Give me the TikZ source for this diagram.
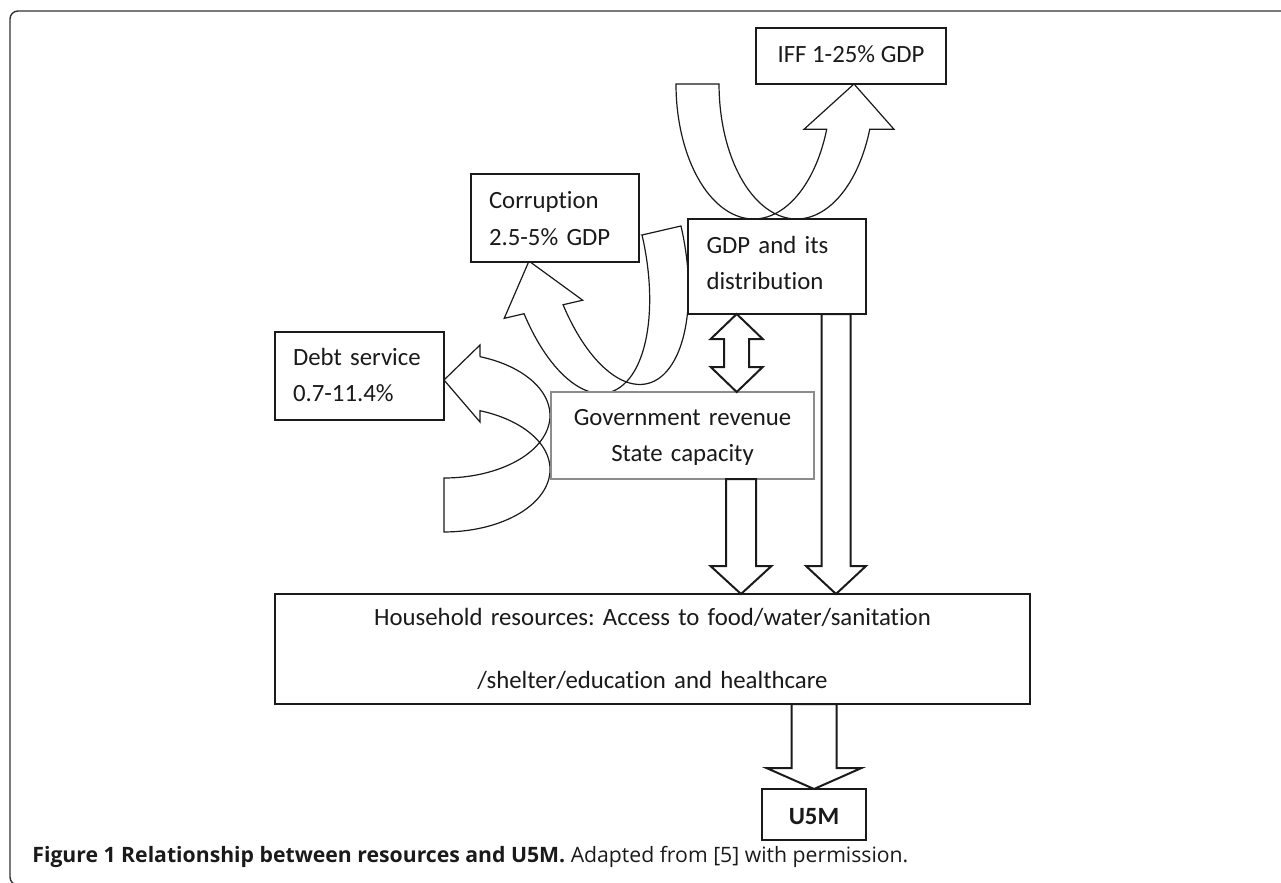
\documentclass[tikz,border=0pt]{standalone}
\usepackage{fontspec}
\setmainfont{Carlito}[Ligatures=NoCommon]
\newfontfamily\capfont{Open Sans}
\usetikzlibrary{calc}
\usepackage{xcolor}
\definecolor{ink}{HTML}{1A1A1A}
\definecolor{rule}{HTML}{333333}
\definecolor{soft}{HTML}{8C8C8C}
\tikzset{
  box/.style={draw=ink,line width=0.85pt,fill=white,inner sep=0pt,outer sep=0pt,text=ink,font=\fontsize{12.4}{18}\selectfont},
  leftbox/.style={box,align=left,inner xsep=9pt},
  midbox/.style={box,align=center},
  ribbon/.style={draw=ink,line width=0.6pt,fill=white,line join=miter},
  block/.style={draw=ink,line width=1pt,fill=white,line join=miter},
  frame/.style={draw=rule,line width=0.7pt,rounded corners=4pt},
  caption/.style={font=\capfont\fontsize{10.6}{12}\selectfont,text=ink,inner sep=0pt}
}
\newcommand{\fatdown}[5]{%
  \draw[block] let \p1=(#1), \p2=(#2) in
    (\x2-#3,\y1) -- (\x2+#3,\y1) -- (\x2+#3,\y2+#5) -- (\x2+#4,\y2+#5)
    -- (\x2,\y2) -- (\x2-#4,\y2+#5) -- (\x2-#3,\y2+#5) -- cycle;}
\newcommand{\fatboth}[5]{%
  \draw[block] let \p1=(#1), \p2=(#2) in
    (\x1,\y1) -- (\x1+#4,\y1-#5) -- (\x1+#3,\y1-#5) -- (\x1+#3,\y2+#5)
    -- (\x1+#4,\y2+#5) -- (\x2,\y2) -- (\x1-#4,\y2+#5) -- (\x1-#3,\y2+#5)
    -- (\x1-#3,\y1-#5) -- (\x1-#4,\y1-#5) -- cycle;}

\begin{document}
\frenchspacing
\begin{tikzpicture}[x=0.5pt,y=-0.5pt]
\useasboundingbox (0,0) rectangle (1281,883);
\begin{scope}
\clip (0,0) rectangle (1281,883);
\draw[frame] (10,11) rectangle (1320,885);
\end{scope}

\filldraw[ribbon] (676,84) arc[start angle=180,end angle=73.9,x radius=77.6,y radius=135]
  arc[start angle=106.1,end angle=19.6,x radius=77.6,y radius=135]
  -- (894,129.3) -- (854,84) -- (804,129.3) -- (826.7,129.3)
  arc[start angle=19.6,end angle=73.9,x radius=77.6,y radius=135]
  arc[start angle=106.1,end angle=180,x radius=77.6,y radius=135] -- cycle;

\begin{scope}[shift={(642,235)},rotate=13]
\filldraw[ribbon] (0,0) -- (40,0)
  arc[start angle=0,end angle=107,x radius=68.4,y radius=146]
  arc[start angle=73,end angle=159.9,x radius=68.4,y radius=146]
  -- (-153,50.2) -- (-116,0) -- (-72.5,50.2) -- (-92.6,50.2)
  arc[start angle=159.9,end angle=107,x radius=68.4,y radius=146]
  arc[start angle=73,end angle=0,x radius=68.4,y radius=146] -- cycle;
\end{scope}

\filldraw[ribbon] (444,380) -- (480,345) -- (480.1,356.7)
  arc[start angle=-70.1,end angle=25.6,x radius=106,y radius=62.5]
  arc[start angle=-25.6,end angle=90,x radius=106,y radius=62.5]
  -- (444,478)
  arc[start angle=90,end angle=25.6,x radius=106,y radius=62.5]
  arc[start angle=-25.6,end angle=-70.1,x radius=106,y radius=62.5]
  -- (480,422) -- cycle;

\node[midbox,minimum width=95pt,minimum height=28pt,text height=8.3pt,text depth=2pt] (iff) at (851,56) {IFF 1-25\% GDP};
\node[leftbox,text width=66pt,minimum width=84pt,minimum height=44pt,text height=3pt,text depth=12pt] (corrupt) at (555,218) {Corruption\\2.5-5\% GDP};
\node[leftbox,text width=66.5pt,minimum width=84.5pt,minimum height=44pt,text height=3pt,text depth=13.3pt] (debt) at (359.5,376) {Debt service\\0.7-11.4\%};
\node[leftbox,text width=70.5pt,minimum width=89pt,minimum height=47.5pt,text height=3pt,text depth=16.2pt] (gdp) at (777,266.5) {GDP and its\\distribution};
\node[midbox,draw=soft,text width=125pt,minimum width=131.5pt,minimum height=43.5pt,text height=3pt,text depth=13.5pt] (gov) at (682.5,435.5) {Government revenue\\State capacity};
\node[midbox,text width=360pt,minimum width=377.5pt,minimum height=55pt,text height=3pt,text depth=27pt,font=\fontsize{12.4}{31.5}\selectfont] (house) at (652.5,649) {Household resources: Access to food/water/sanitation\\/shelter/education and healthcare};
\node[midbox,minimum width=52pt,minimum height=25.5pt,text height=11.5pt,text depth=2pt,font=\fontsize{12.4}{18}\selectfont\bfseries] (u5m) at (814,814.5) {U5M};
\node[caption,anchor=base west] (cap) at (32,862) {\textbf{Figure 1 Relationship between resources and U5M.} Adapted from [5] with permission.};

\coordinate (gvx) at (741,0);
\coordinate (gdx) at (836,0);
\coordinate (hhx) at (814,0);
\coordinate (twx) at (736.7,0);
\fatboth{gdp.south -| twx}{gov.north -| twx}{6.25pt}{13pt}{12.5pt}
\fatdown{gov.south -| gvx}{house.north -| gvx}{7.5pt}{15.25pt}{14pt}
\fatdown{gdp.south -| gdx}{house.north -| gdx}{7.25pt}{15pt}{14pt}
\fatdown{house.south -| hhx}{u5m.north -| hhx}{11.25pt}{23.75pt}{10.5pt}
\end{tikzpicture}
\end{document}
